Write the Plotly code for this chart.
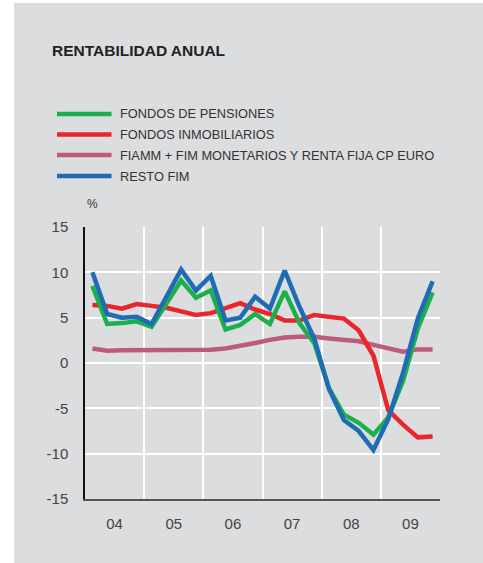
import plotly.graph_objects as go

# Quarterly annual returns (%), 2004-2009
years = ["04", "05", "06", "07", "08", "09"]
quarters = [1, 2, 3, 4]

pensiones = [8.5, 4.3, 4.4, 4.6, 4.0, 6.6, 9.1, 7.2, 8.0, 3.7, 4.2, 5.4,
             4.3, 7.9, 4.4, 2.2, -2.8, -5.7, -6.6, -7.9, -6.0, -2.0, 3.8, 7.8]
inmobiliarios = [6.4, 6.3, 6.0, 6.5, 6.3, 6.1, 5.7, 5.3, 5.5, 6.0, 6.6, 5.9,
                 5.4, 4.7, 4.7, 5.3, 5.1, 4.9, 3.6, 0.8, -5.2, -6.8, -8.2, -8.1]
monetarios = [1.6, 1.35, 1.4, 1.4, 1.45, 1.5, 1.5, 1.45, 1.45, 1.6, 1.85, 2.2,
              2.55, 2.8, 2.9, 2.9, 2.7, 2.6, 2.4, 2.0, 1.6, 1.25, 1.5, 1.5]
resto_fim = [10.0, 5.4, 5.0, 5.1, 4.3, 7.3, 10.3, 8.0, 9.6, 4.7, 5.0, 7.3,
             6.0, 10.2, 6.2, 2.7, -2.9, -6.3, -7.5, -9.6, -6.2, -1.1, 4.9, 9.0]

y_ticks = [-15, -10, -5, 0, 5, 10, 15]
y_ticktext = ["-15", "-10", "-5", "0", "5", "10", "15"]

series_names = [
    "FONDOS DE PENSIONES",
    "FONDOS INMOBILIARIOS",
    "FIAMM + FIM MONETARIOS Y RENTA FIJA CP EURO",
    "RESTO FIM",
]
series_colors = ["#1cb04c", "#e8262b", "#bf5b7a", "#1f6cb4"]
series_values = [pensiones, inmobiliarios, monetarios, resto_fim]

# x position: year start + mid-quarter offset
x = [2000 + int(y) + (q - 0.5) / 4 for y in years for q in quarters]

W, H = 483, 563
ML, MR, MT, MB = 85, 43, 227, 64
PW, PH = W - ML - MR, H - MT - MB


def px_x(p):
    return (p - ML) / PW


def px_y(p):
    return (H - MB - p) / PH


fig = go.Figure()

# draw order: pink, red, green, blue on top
for idx in [2, 1, 0, 3]:
    fig.add_trace(go.Scatter(
        x=x, y=series_values[idx], mode="lines", name=series_names[idx],
        line=dict(color=series_colors[idx], width=4.5),
        showlegend=False, hoverinfo="skip",
    ))

shapes = []
# grey panel behind everything
shapes.append(dict(type="rect", xref="paper", yref="paper",
                   x0=px_x(14), x1=px_x(W + 5), y0=px_y(H + 5), y1=px_y(3),
                   fillcolor="#dcdddf", line=dict(width=0), layer="below"))
# zero reference line across the data span
shapes.append(dict(type="line", xref="x", yref="y", x0=x[0], x1=x[-1], y0=0, y1=0,
                   line=dict(color="#555555", width=1.5), layer="below"))

annotations = []
annotations.append(dict(text="RENTABILIDAD ANUAL", xref="paper", yref="paper",
                        x=px_x(50), y=px_y(50.5), xanchor="left", yanchor="middle",
                        showarrow=False,
                        font=dict(family="Liberation Sans", size=15.5, color="#222222",
                                  weight="bold")))

legend_y = [114, 134.5, 155, 176]
for name, color, ly in zip(series_names, series_colors, legend_y):
    shapes.append(dict(type="line", xref="paper", yref="paper",
                       x0=px_x(57), x1=px_x(111.5), y0=px_y(ly), y1=px_y(ly),
                       line=dict(color=color, width=4.5)))
    annotations.append(dict(text=name, xref="paper", yref="paper",
                            x=px_x(118), y=px_y(ly), xanchor="left", yanchor="middle",
                            showarrow=False,
                            font=dict(family="Liberation Sans", size=12.8, color="#333333")))

annotations.append(dict(text="%", xref="paper", yref="paper",
                        x=px_x(92.5), y=px_y(204), xanchor="center", yanchor="middle",
                        showarrow=False,
                        font=dict(family="Liberation Sans", size=12, color="#333333")))

fig.update_layout(
    width=W, height=H,
    margin=dict(l=ML, r=MR, t=MT, b=MB, pad=0),
    paper_bgcolor="white",
    plot_bgcolor="rgba(0,0,0,0)",
    font=dict(family="Liberation Sans", color="#444444"),
    shapes=shapes,
    annotations=annotations,
    xaxis=dict(
        range=[2004, 2010],
        tickvals=[2000 + int(y) + 0.5 for y in years],
        ticktext=years,
        showgrid=False,
        ticks="", ticklabelstandoff=10,
        tickfont=dict(size=15, color="#444444"),
        showline=True, linecolor="#555555", linewidth=1.5,
        zeroline=False,
        minor=dict(tick0=2004, dtick=1, showgrid=True, gridcolor="white", gridwidth=1.5),
    ),
    yaxis=dict(
        range=[-15, 15],
        tickvals=y_ticks, ticktext=y_ticktext,
        showgrid=True, gridcolor="white", gridwidth=1.5,
        ticks="", ticklabelstandoff=12,
        tickfont=dict(size=15, color="#444444"),
        showline=True, linecolor="#111111", linewidth=1.5,
        zeroline=False,
    ),
)

fig.write_html("out.html")
